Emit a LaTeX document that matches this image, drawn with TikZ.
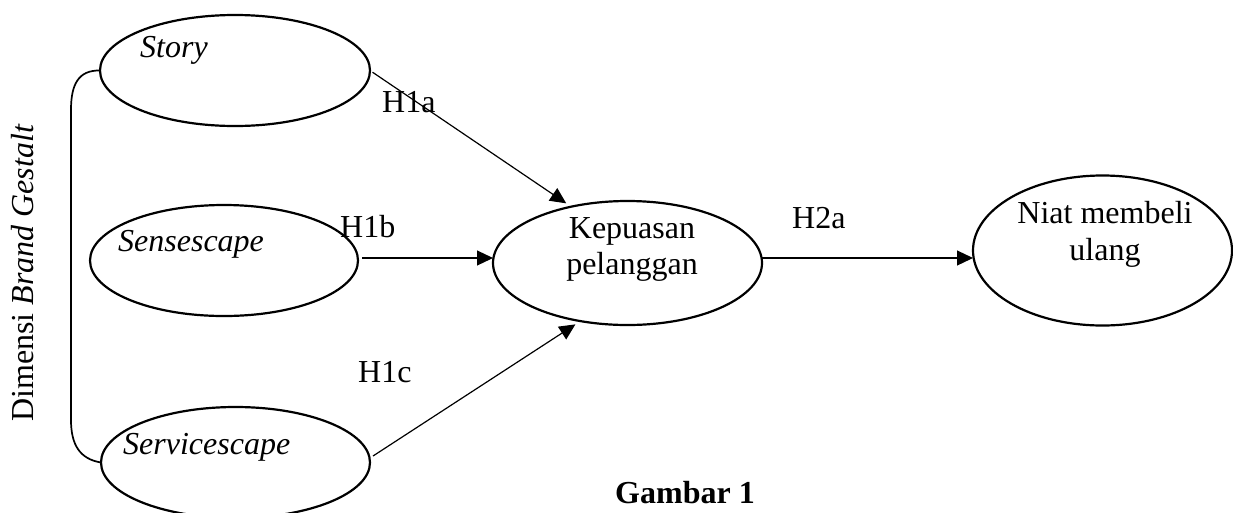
\documentclass[tikz,border=0pt]{standalone}
\usepackage{fontspec}
\setmainfont{Liberation Serif}
\usetikzlibrary{shapes.geometric,arrows.meta}
\begin{document}
\begin{tikzpicture}[x=1pt,y=-1pt,
  every node/.style={font=\fontsize{32}{36}\selectfont, inner sep=0pt},
  oval/.style={ellipse, draw, line width=2.2pt, inner sep=0pt, outer sep=0pt},
  arr/.style={line width=1.2pt, -{Triangle[length=16pt,width=15pt]}},
  lbl/.style={anchor=base west},
  ctr/.style={anchor=base},
]
\useasboundingbox (0,0) rectangle (1233,512);
% ellipses
\node[oval, minimum width=270pt, minimum height=111pt] (story) at (235,70.5) {};
\node[oval, minimum width=268pt, minimum height=111pt] (sense) at (224,260.5) {};
\node[oval, minimum width=269pt, minimum height=111pt] (serv) at (235.5,462.5) {};
\node[oval, minimum width=269pt, minimum height=124pt] (kep) at (627.5,263) {};
\node[oval, minimum width=259pt, minimum height=150pt] (niat) at (1102.5,250.5) {};
% texts in ellipses
\node[lbl] (tstory) at (140,57) {\itshape Story};
\node[lbl] (tsense) at (118,251) {\itshape Sensescape};
\node[lbl] (tserv) at (123,454) {\itshape Servicescape};
\node[ctr] (tkep1) at (632,238) {Kepuasan};
\node[ctr] (tkep2) at (632,274) {pelanggan};
\node[ctr] (tniat1) at (1105,223) {Niat membeli};
\node[ctr] (tniat2) at (1105,260) {ulang};
% side label
\node[rotate=90, anchor=base] (dim) at (33,273) {Dimensi \textit{Brand Gestalt}};
% bracket
\draw[line width=1.7pt] (story.west) .. controls (78,70) and (71,85) .. (71,110)
  -- (71,420) .. controls (71,445) and (80,459) .. (serv.west);
% arrows
\draw[arr, shorten <=3pt, shorten >=6pt] (story.east) -- (kep.135);
\draw[arr] ([shift={(4,-2.5)}]sense.east) -- ([shift={(0,-5)}]kep.west);
\draw[arr, shorten >=6pt] ([shift={(3,-6.5)}]serv.east) -- (kep.231);
\draw[arr] ([shift={(0,-5)}]kep.east) -- ([shift={(0,7.5)}]niat.west);
% hypothesis labels
\node[lbl] (h1a) at (382,112) {H1a};
\node[lbl] (h1b) at (340,237) {H1b};
\node[lbl] (h1c) at (358,382) {H1c};
\node[lbl] (h2a) at (792,228) {H2a};
% caption
\node[lbl] (cap) at (615,503) {\bfseries Gambar 1};
\end{tikzpicture}
\end{document}
